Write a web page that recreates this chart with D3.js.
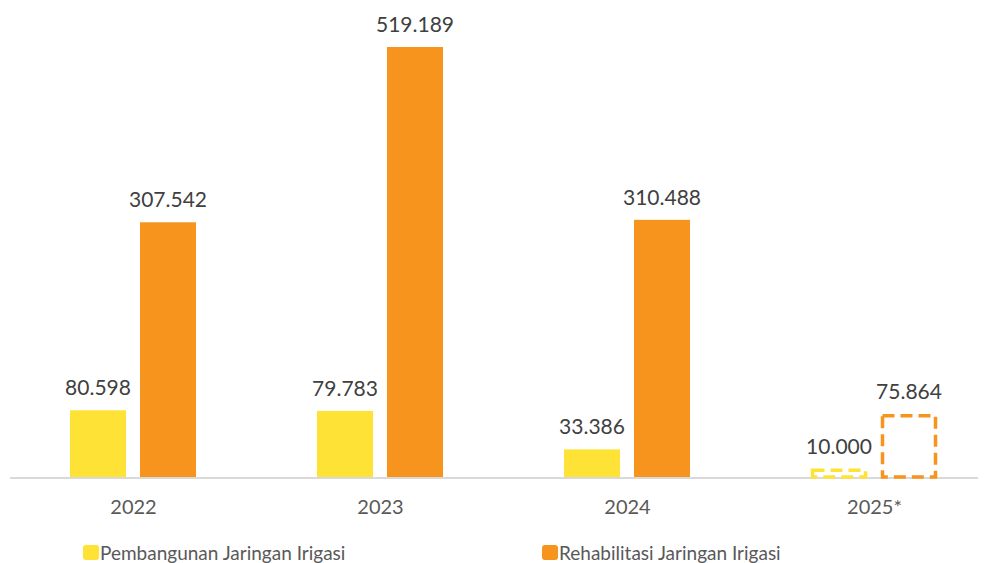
<!DOCTYPE html>
<html>
<head>
<meta charset="utf-8">
<script src="https://cdn.jsdelivr.net/npm/d3@7"></script>
<style>
  html, body { margin: 0; padding: 0; background: #fff; }
  svg { display: block; font-family: Lato, "Open Sans", sans-serif; }
</style>
</head>
<body>
<svg id="chart" width="988" height="563"></svg>
<script>
// Data
const years = ['2022', '2023', '2024', '2025*'];
const pembangunan = [80598, 79783, 33386, 10000];
const rehabilitasi = [307542, 519189, 310488, 75864];
const projected = [false, false, false, true];
const seriesNames = ['Pembangunan Jaringan Irigasi', 'Rehabilitasi Jaringan Irigasi'];

const COLORS = ['#FFE236', '#F7941D'];

const width = 988, height = 563;
const baseY = 477;

const svg = d3.select('#chart');

const x = d3.scaleBand().domain(years).range([10, 998]).paddingInner(0).paddingOuter(0);
const y = d3.scaleLinear().domain([0, 519189]).range([baseY, 47]);

const fmt = v => d3.format(',')(v).replace(/,/g, '.');

// bar offsets relative to band center
const barW = 56;
const offsets = [-63.5, 6.5];

const series = [pembangunan, rehabilitasi];

// axis line
svg.append('line')
  .attr('x1', 10).attr('x2', 978)
  .attr('y1', baseY + 1).attr('y2', baseY + 1)
  .attr('stroke', '#d9d9d9').attr('stroke-width', 2);

series.forEach((vals, s) => {
  years.forEach((yr, i) => {
    const cx = x(yr) + x.bandwidth() / 2;
    const x0 = cx + offsets[s];
    const top = y(vals[i]);
    if (projected[i]) {
      // 2025 is a target: dashed outline only
      svg.append('rect')
        .attr('x', x0 + 1.5).attr('y', top + 1.5)
        .attr('width', barW - 3).attr('height', baseY - top - 1.5)
        .attr('fill', 'none').attr('stroke', COLORS[s])
        .attr('stroke-width', 3.5).attr('stroke-dasharray', '12,6');
    } else {
      svg.append('rect')
        .attr('x', x0).attr('y', top)
        .attr('width', barW).attr('height', baseY - top)
        .attr('fill', COLORS[s]);
    }
    svg.append('text')
      .attr('x', x0 + barW / 2).attr('y', top - 15)
      .attr('text-anchor', 'middle').attr('fill', '#404040').attr('font-size', '21px')
      .text(fmt(vals[i]));
  });
});

// category labels
const xAxis = d3.axisBottom(x).tickSize(0).tickPadding(0);
const ax = svg.append('g').attr('transform', `translate(0, ${baseY})`).call(xAxis);
ax.select('.domain').remove();
ax.selectAll('text')
  .attr('y', 37).attr('dy', 0)
  .attr('fill', '#595959').attr('font-size', '20px')
  .attr('font-family', 'Lato, "Open Sans", sans-serif');

// legend
const legendX = [83, 542];
seriesNames.forEach((name, s) => {
  const lg = svg.append('g').attr('transform', `translate(${legendX[s]}, 545)`);
  lg.append('rect').attr('width', 16).attr('height', 15).attr('rx', 3).attr('fill', COLORS[s]);
  lg.append('text').attr('x', 17).attr('y', 15)
    .attr('fill', '#595959').attr('font-size', '19px').text(name);
});
</script>
</body>
</html>
